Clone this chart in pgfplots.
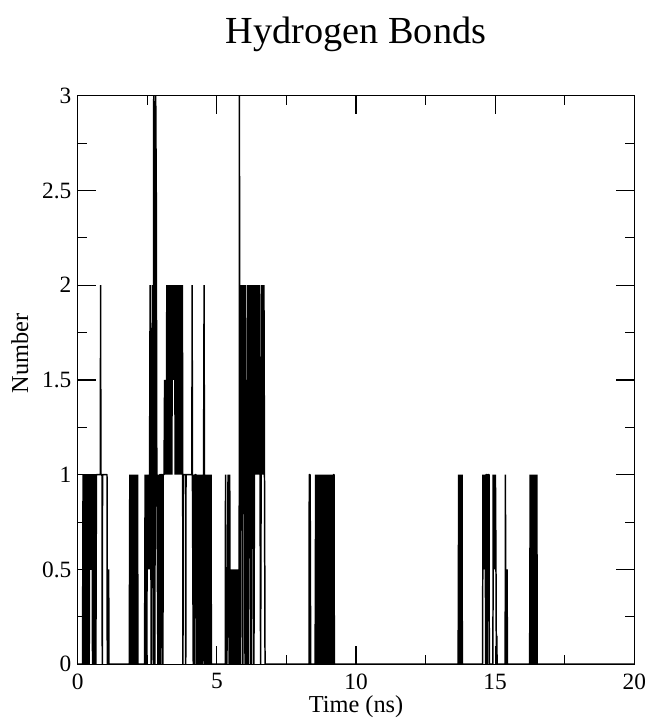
\documentclass[border=0pt]{standalone}
\usepackage{fontspec}
\setmainfont{Liberation Serif}
\usepackage{pgfplots}
\pgfplotsset{compat=1.18}
\begin{document}
\begin{tikzpicture}
\begin{axis}[
  at={(0,0)}, anchor=south west,
  scale only axis, width=558bp, height=570bp,
  xmin=0, xmax=20, ymin=0, ymax=3,
  xtick={0,5,10,15,20}, minor x tick num=1,
  ytick={0,0.5,1,1.5,2,2.5,3}, minor y tick num=1,
  tick align=inside, major tick length=18bp, minor tick length=9bp,
  axis line style={line width=1.3pt},
  every tick/.style={line width=1.1pt, black},
  tick label style={font=\fontsize{23.5}{25}\selectfont},
  xticklabel style={yshift=-6bp},
  yticklabel style={xshift=-3bp},
  /pgf/number format/assume math mode=true,
  title={Hydrogen Bonds},
  title style={font=\fontsize{38.5}{42}\selectfont, at={(axis description cs:0.5,1.0807)}, anchor=base},
  xlabel={Time (ns)},
  xlabel style={font=\fontsize{24.5}{27}\selectfont, at={(axis description cs:0.5,-0.085)}, anchor=base},
  ylabel={Number},
  ylabel style={font=\fontsize{24.5}{27}\selectfont, at={(axis description cs:-0.104,0.547)}, anchor=center},
  clip=true,
]
\addplot[black, line width=1.5pt, line join=bevel] coordinates {
(0,0) (0.17,0) (0.19,1) (0.21,0) (0.23,1) (0.25,0) (0.27,1) (0.29,0) (0.31,1) (0.33,0) (0.35,1) (0.37,0) (0.39,1) (0.41,0) (0.43,1)
(0.45,0.5) (0.47,1) (0.49,0.5) (0.51,1) (0.53,0) (0.55,1) (0.57,0) (0.59,1) (0.61,0) (0.63,1) (0.65,0) (0.67,1)
(0.81,1) (0.82,2) (0.83,1) (0.87,1) (0.88,0) (0.89,1) (1.05,1) (1.06,0) (1.10,0) (1.11,0.5) (1.12,0)
(1.85,0) (1.87,1) (1.89,0) (1.91,1) (1.93,0) (1.95,1) (1.97,0) (1.99,1) (2.01,0) (2.03,1) (2.05,0) (2.07,1) (2.09,0) (2.11,1) (2.13,0) (2.15,1) (2.16,0)
(2.40,0) (2.42,1) (2.44,0) (2.46,1) (2.48,0) (2.50,1) (2.52,0.5) (2.54,1) (2.56,0.5) (2.58,1) (2.60,2) (2.62,1) (2.64,0) (2.66,1) (2.68,2) (2.70,1) (2.72,0) (2.73,3) (2.75,1) (2.77,0) (2.79,2) (2.80,3) (2.82,2.5) (2.84,1) (2.86,0.5) (2.88,0) (2.90,1) (2.92,0) (2.94,1) (2.98,1) (2.99,0) (3.00,1) (3.05,1) (3.06,0) (3.07,1)
(3.10,1) (3.12,1.5) (3.14,1) (3.16,1.5) (3.18,1) (3.20,2) (3.22,1) (3.24,2) (3.26,1) (3.28,2) (3.30,1) (3.32,2) (3.34,1) (3.36,2) (3.38,1) (3.40,2) (3.42,1.5) (3.44,2) (3.46,1.5) (3.48,2) (3.50,1) (3.52,2) (3.54,1) (3.56,2) (3.58,1) (3.60,2) (3.62,1) (3.64,2) (3.66,1) (3.68,2) (3.70,1) (3.72,2) (3.74,1) (3.76,2) (3.77,1)
(3.78,0) (3.79,1) (3.87,1) (3.88,0) (3.89,1) (4.10,1) (4.11,2) (4.12,1) (4.15,0) (4.17,1) (4.19,0) (4.21,1) (4.25,1) (4.26,0) (4.28,1) (4.30,0) (4.32,1) (4.34,0) (4.36,1) (4.38,0) (4.40,1) (4.42,0) (4.44,1) (4.46,0) (4.48,1) (4.50,0) (4.52,1) (4.53,1.5) (4.54,2) (4.55,1) (4.57,0) (4.59,1) (4.61,0) (4.63,1) (4.65,0) (4.67,1) (4.69,0) (4.71,1) (4.73,0) (4.75,1) (4.77,0) (4.79,1) (4.80,0)
(5.30,0) (5.31,1) (5.32,0) (5.34,0.5) (5.36,0) (5.38,0.5) (5.40,1) (5.42,0.5) (5.44,0) (5.46,1) (5.48,0) (5.50,0.5) (5.52,0) (5.54,0.5) (5.56,0) (5.58,0.5) (5.60,0) (5.62,0.5) (5.64,0) (5.66,0.5) (5.68,0) (5.70,0.5) (5.72,0) (5.74,0.5) (5.76,0)
(5.80,0) (5.81,3) (5.82,1) (5.83,2) (5.85,0) (5.87,2) (5.89,1) (5.91,2) (5.93,0) (5.95,2) (5.97,1) (5.99,2) (6.01,0) (6.03,2) (6.05,0) (6.07,1.5) (6.09,0) (6.11,2) (6.13,0) (6.15,2) (6.17,1) (6.19,2) (6.21,0) (6.23,2) (6.25,0) (6.27,2) (6.29,1) (6.31,2) (6.33,0) (6.35,1) (6.37,2) (6.39,1) (6.41,2) (6.43,1) (6.45,2) (6.47,1) (6.49,2) (6.51,1) (6.53,2) (6.55,1) (6.57,0) (6.59,1) (6.61,2) (6.63,1) (6.65,2) (6.67,1) (6.69,2) (6.71,1) (6.73,0)
(8.31,0) (8.32,1) (8.35,1) (8.36,0.5) (8.37,0)
(8.53,0) (8.55,1) (8.57,0) (8.59,1) (8.61,0) (8.63,1) (8.65,0) (8.67,1) (8.69,0) (8.71,1) (8.73,0) (8.75,1) (8.77,0) (8.79,1) (8.81,0) (8.83,1) (8.85,0) (8.87,1) (8.89,0) (8.91,1) (8.93,0) (8.95,1) (8.97,0) (8.99,1) (9.01,0) (9.03,1) (9.05,0) (9.07,1) (9.09,0) (9.11,1) (9.13,0) (9.15,1) (9.17,0) (9.19,1) (9.21,1) (9.22,0)
(13.67,0) (13.69,1) (13.71,0) (13.73,1) (13.75,0) (13.77,1) (13.79,0) (13.81,1) (13.82,0)
(14.55,0) (14.56,1) (14.57,0.5) (14.59,1) (14.61,0.5) (14.63,1) (14.65,0.5) (14.66,0) (14.67,1) (14.71,1) (14.72,0) (14.74,1) (14.78,1) (14.79,0)
(14.92,0) (14.93,1) (14.95,0.5) (14.97,1) (14.99,0.5) (15.01,1) (15.03,0.5) (15.04,0.15) (15.05,0) (15.06,0.15) (15.07,0)
(15.36,0) (15.37,1) (15.38,0) (15.42,0) (15.43,0.5) (15.44,0)
(16.24,0) (16.26,1) (16.28,0) (16.30,1) (16.32,0) (16.34,1) (16.36,0) (16.38,1) (16.40,0) (16.42,1) (16.44,0) (16.46,1) (16.48,0) (16.50,1) (16.51,0)
(20,0)
};
\end{axis}
\path (-78bp,-56bp) rectangle (577bp,666bp);
\end{tikzpicture}
\end{document}
